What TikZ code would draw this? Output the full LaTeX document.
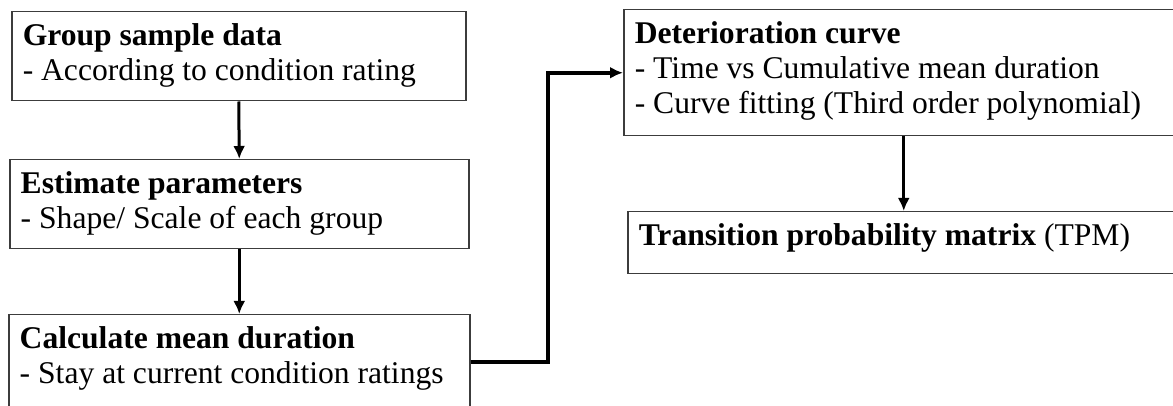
\documentclass[tikz,border=0pt]{standalone}
\usepackage{fontspec}
\setmainfont{Liberation Serif}
\usetikzlibrary{arrows.meta}

\definecolor{boxline}{RGB}{60,60,60}

\tikzset{
  stagebox/.style={draw=boxline,line width=0.75pt,anchor=north west,align=flush left,
    inner xsep=5.5pt,inner ysep=3pt,text height=14pt,
    font=\fontsize{15.8}{17.5}\selectfont},
  flow/.style={line width=1.5pt,-{Latex[length=6.5pt,width=6pt]}},
  bigflow/.style={line width=2pt,-{Latex[length=6.5pt,width=6pt]}}
}

\begin{document}
\begin{tikzpicture}[x=0.5pt,y=-0.5pt]

\useasboundingbox (0,0) rectangle (1173,406);

\node[stagebox,text width=216pt,text depth=24.5pt] (group) at (11,11)
  {\textbf{Group sample data}\\- According to condition rating};
\node[stagebox,text width=218.5pt,text depth=24.5pt] (estimate) at (9,159)
  {\textbf{Estimate parameters}\\- Shape/ Scale of each group};
\node[stagebox,text width=219.5pt,text depth=27pt] (calc) at (8,314)
  {\textbf{Calculate mean duration}\\- Stay at current condition ratings};

\node[stagebox,text width=269pt,text depth=43pt] (curve) at (623,9)
  {\textbf{Deterioration curve}\\- Time vs Cumulative mean duration\\- Curve fitting (Third order polynomial)};
\node[stagebox,text width=265pt,text depth=11pt] (tpm) at (627,211)
  {\textbf{Transition probability matrix} (TPM)};

\draw[flow] (group.south) -- (estimate.north);
\draw[flow] (estimate.south) -- (calc.north);
\draw[bigflow] (calc.east) -- ++(77,0) |- (curve.west);
\draw[flow] (curve.south) -- (tpm.north);

\end{tikzpicture}
\end{document}
